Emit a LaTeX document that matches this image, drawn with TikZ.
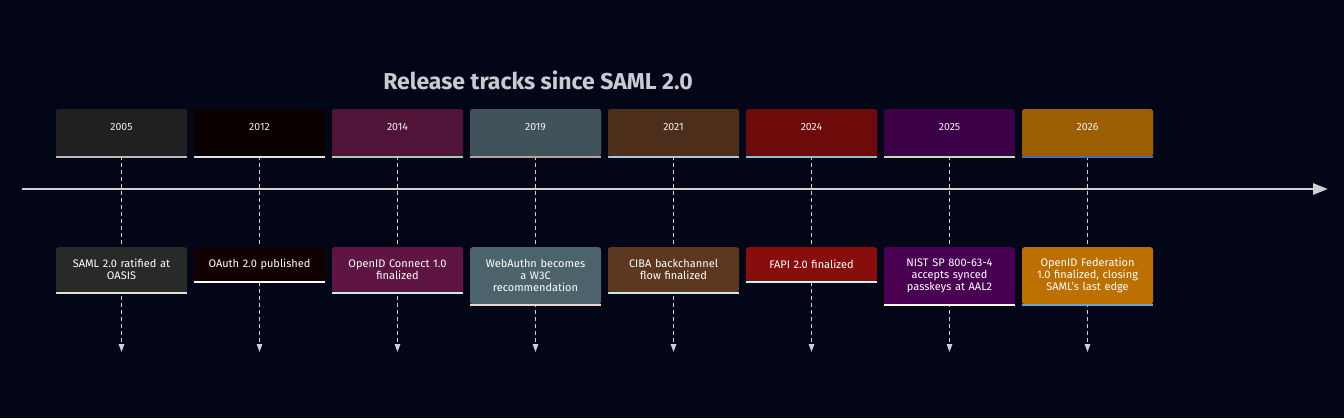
\documentclass[tikz,border=0pt]{standalone}
\usepackage{fontspec}
\setmainfont{Fira Sans}
\usetikzlibrary{arrows.meta}
\definecolor{bg}{HTML}{020617}
\definecolor{axis}{HTML}{D0D0D0}
\definecolor{titlec}{HTML}{C8CCD2}
\definecolor{pA}{HTML}{1F201F}\definecolor{pAl}{HTML}{BBBBBB}
\definecolor{pB}{HTML}{0B0000}\definecolor{pBl}{HTML}{E0E0E0}
\definecolor{pC}{HTML}{4F1438}\definecolor{pCl}{HTML}{A0D0A8}
\definecolor{pD}{HTML}{41535A}\definecolor{pDl}{HTML}{B8A0A0}
\definecolor{pE}{HTML}{4D2E1B}\definecolor{pEl}{HTML}{A8C8E0}
\definecolor{pF}{HTML}{6D0B0B}\definecolor{pFl}{HTML}{80C8D0}
\definecolor{pG}{HTML}{3B0045}\definecolor{pGl}{HTML}{C0E0B0}
\definecolor{pH}{HTML}{9B5E00}\definecolor{pHl}{HTML}{4070C0}
\definecolor{eA}{HTML}{282A28}\definecolor{eAl}{HTML}{E0E0E0}
\definecolor{eB}{HTML}{100000}\definecolor{eBl}{HTML}{FFFFFF}
\definecolor{eC}{HTML}{5E1544}\definecolor{eCl}{HTML}{C8F0E0}
\definecolor{eD}{HTML}{4D636B}\definecolor{eDl}{HTML}{F0D0C8}
\definecolor{eE}{HTML}{5C3820}\definecolor{eEl}{HTML}{C8E8F0}
\definecolor{eF}{HTML}{880E0E}\definecolor{eFl}{HTML}{C0F8F8}
\definecolor{eG}{HTML}{490052}\definecolor{eGl}{HTML}{F8F8E0}
\definecolor{eH}{HTML}{BB7000}\definecolor{eHl}{HTML}{60A8E0}
\tikzset{
  periodbox/.style={minimum width=131pt, minimum height=47pt, inner sep=0pt, rounded corners=2.5pt, anchor=north},
  periodlabel/.style={text=white!88!gray, font=\fontsize{10.5}{12}\selectfont},
  eventbox/.style={minimum width=131pt, text width=128pt, align=center, inner sep=0pt, rounded corners=2.5pt, anchor=north, text=white, font=\fontsize{11}{12}\selectfont},
  connector/.style={draw=axis, line width=1.2pt, dash pattern=on 4pt off 3pt, -{Triangle[length=8pt,width=5.5pt]}},
  axisline/.style={draw=axis, line width=2.6pt, -{Triangle[length=15pt,width=11pt]}},
}
\begin{document}
\begin{tikzpicture}[x=1pt,y=-1pt]
\fill[bg] (0,0) rectangle (1344,418);
\useasboundingbox (0,0) rectangle (1344,418);
\node[text=titlec, font=\fontsize{23}{27}\selectfont\bfseries] (title) at (538,80) {Release tracks since SAML 2.0};
\foreach \i/\yr/\pc/\ec/\h/\txt in {
 0/2005/pA/eA/45/{SAML 2.0 ratified at\\OASIS},
 1/2012/pB/eB/34/{OAuth 2.0 published},
 2/2014/pC/eC/45/{OpenID Connect 1.0\\finalized},
 3/2019/pD/eD/57/{WebAuthn becomes\\a W3C\\recommendation},
 4/2021/pE/eE/45/{CIBA backchannel\\flow finalized},
 5/2024/pF/eF/34/{FAPI 2.0 finalized},
 6/2025/pG/eG/57/{NIST SP 800-63-4\\accepts synced\\passkeys at AAL2},
 7/2026/pH/eH/57/{OpenID Federation\\1.0 finalized, closing\\SAML's last edge}} {
  \pgfmathsetmacro{\cx}{121.5+138*\i}
  \coordinate (end\i) at (\cx,352);
  \node[periodbox, fill=\pc] (p\i) at (\cx,109) {};
  \draw[connector] (p\i.south) -- (end\i);
  \node[periodbox, fill=\pc] at (\cx,109) {};
  \node[periodlabel] (pl\i) at (\cx,127) {\yr};
  \draw[\pc l, line width=2pt] ([yshift=-1pt]p\i.south west) -- ([yshift=-1pt]p\i.south east);
  \node[eventbox, fill=\ec, minimum height=\h pt] (e\i) at (\cx,247) {\txt};
  \draw[\ec l, line width=2pt] ([yshift=-1pt]e\i.south west) -- ([yshift=-1pt]e\i.south east);
}
\coordinate (ax0) at (22,189);
\coordinate (ax1) at (1328,189);
\draw[axisline] (ax0) -- (ax1);
\end{tikzpicture}
\end{document}
